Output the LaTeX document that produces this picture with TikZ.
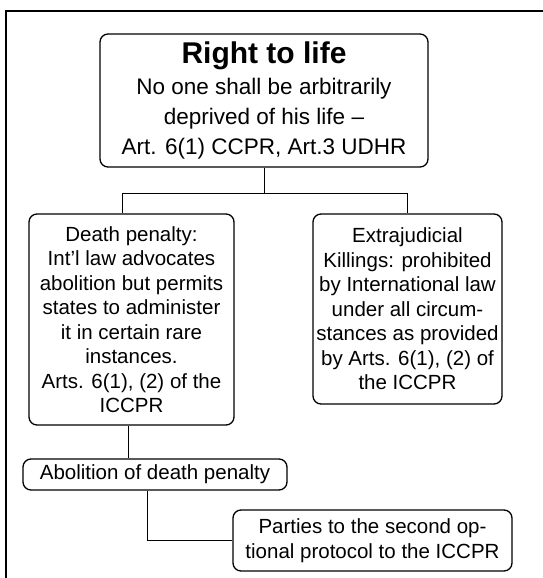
\documentclass[tikz,border=0pt]{standalone}
\usepackage{fontspec}
\setmainfont{Liberation Sans}
\usetikzlibrary{positioning}

\begin{document}
\begin{tikzpicture}[
  x=1pt,y=-1pt,
  box/.style={draw,rounded corners=8pt,align=center,inner sep=0pt,line width=1.3pt},
  body/.style={font=\fontsize{20.5}{24.5}\selectfont},
  link/.style={line width=0.9pt}
]
\useasboundingbox (0,0) rectangle (543,578);
\draw[line width=2.5pt] (6,578) -- (6,11) -- (543,11);
\node[box,minimum width=328pt,minimum height=133pt,font=\fontsize{22.5}{30}\selectfont] (life) at (264,100.5)
  {{\fontsize{30}{32}\selectfont\bfseries Right to life}\\[1.5pt]No one shall be arbitrarily\\deprived of his life –\\Art. 6(1) CCPR, Art.3 UDHR};
\node[box,body,minimum width=205pt,minimum height=211pt] (death) at (131.5,319.5)
  {Death penalty:\\Int’l law advocates\\abolition but permits\\states to administer\\it in certain rare\\instances.\\Arts. 6(1), (2) of the\\ICCPR};
\node[box,body,minimum width=189pt,minimum height=190pt] (extra) at (407.5,309)
  {Extrajudicial\\Killings: prohibited\\by International law\\under all circum-\\stances as provided\\by Arts. 6(1), (2) of\\the ICCPR};
\node[box,body,minimum width=264pt,minimum height=31pt] (abol) at (155,474.5) {Abolition of death penalty};
\node[box,body,minimum width=279pt,minimum height=61pt] (parties) at (372.5,540.5)
  {Parties to the second op-\\tional protocol to the ICCPR};
\draw[link] (life.south) -- ++(0,26) -| ([xshift=-9.5pt]death.north);
\draw[link] (life.south) -- ++(0,26) -| (extra.north);
\draw[link] ([xshift=-3.5pt]death.south) -- ([xshift=-3.5pt]death.south |- abol.north);
\draw[link] ([xshift=-8pt]abol.south) |- (parties.west);
\end{tikzpicture}
\end{document}
